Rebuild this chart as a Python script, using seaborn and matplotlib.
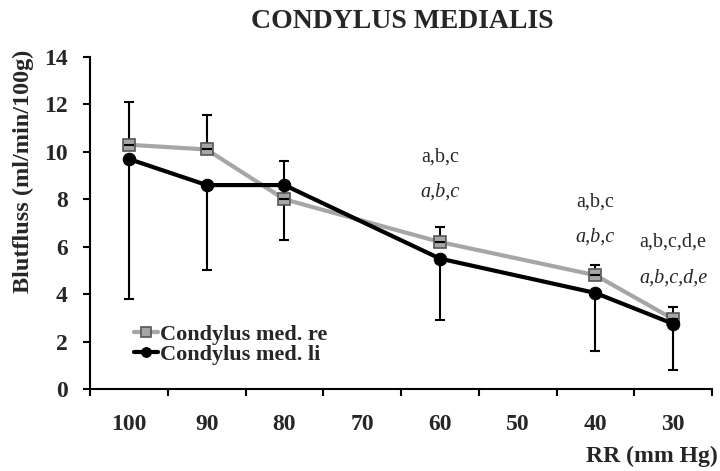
import matplotlib
matplotlib.use("Agg")
import matplotlib.pyplot as plt
import seaborn as sns
import pandas as pd
import numpy as np

categories = ["100", "90", "80", "70", "60", "50", "40", "30"]
measured = ["100", "90", "80", "60", "40", "30"]
re_values = [10.3, 10.1, 8.0, 6.2, 4.8, 2.95]
li_values = [9.7, 8.6, 8.6, 5.5, 4.05, 2.75]
re_err_up = [1.8, 1.45, 1.6, 0.65, 0.45, 0.5]
li_err_down = [5.9, 3.6, 2.3, 2.6, 2.45, 1.95]
annot_upright = {"60": "a,b,c", "40": "a,b,c", "30": "a,b,c,d,e"}
annot_italic = {"60": "a,b,c", "40": "a,b,c", "30": "a,b,c,d,e"}
annot_y_upright = {"60": 9.8, "40": 7.9, "30": 6.2}
annot_y_italic = {"60": 8.3, "40": 6.4, "30": 4.7}

sns.set_theme(style="white")
plt.rcParams["font.family"] = ["Liberation Serif", "DejaVu Serif"]
plt.rcParams["font.weight"] = "bold"

pos = [categories.index(c) for c in measured]
df = pd.DataFrame({
    "pos": pos * 2,
    "value": re_values + li_values,
    "series": ["Condylus med. re"] * len(pos) + ["Condylus med. li"] * len(pos),
})

fig = plt.figure(figsize=(7.2, 4.71), dpi=100)
ax = fig.add_axes([0.125, 0.174, 0.864, 0.705])

sns.lineplot(data=df, x="pos", y="value", hue="series", style="series",
             palette={"Condylus med. re": "#a6a6a6", "Condylus med. li": "#000000"},
             markers={"Condylus med. re": "s", "Condylus med. li": "o"},
             dashes=False, linewidth=3, markersize=9, ax=ax, sort=False,
             hue_order=["Condylus med. re", "Condylus med. li"])
for line in ax.lines:
    if line.get_color() in ("#a6a6a6",):
        line.set_markeredgecolor("#555555")
        line.set_markerfacecolor("#a6a6a6")
        line.set_markeredgewidth(1.2)
    else:
        line.set_markeredgecolor("#000000")

ax.errorbar(pos, re_values, yerr=[np.zeros(len(pos)), re_err_up], fmt="none",
            ecolor="black", elinewidth=1.5, capsize=3.5, capthick=1.5, zorder=1)
ax.errorbar(pos, li_values, yerr=[li_err_down, np.zeros(len(pos))], fmt="none",
            ecolor="black", elinewidth=1.5, capsize=3.5, capthick=1.5, zorder=1)

for line in ax.lines:
    line.set_zorder(3)

for k in annot_upright:
    x = categories.index(k)
    ax.text(x, annot_y_upright[k], annot_upright[k], ha="center", va="center",
            fontsize=14.5, fontweight="normal")
    ax.text(x, annot_y_italic[k], annot_italic[k], ha="center", va="center",
            fontsize=14.5, fontweight="normal", fontstyle="italic")

ax.set_xlim(-0.5, len(categories) - 0.5)
ax.set_ylim(0, 14)
ax.set_yticks(range(0, 15, 2))
ax.set_xticks(range(len(categories)))
ax.set_xticklabels(categories)
ax.set_xticks(np.arange(-0.5, len(categories), 1.0), minor=True)
ax.tick_params(axis="x", which="major", length=0, pad=18, labelsize=17)
ax.tick_params(axis="x", which="minor", direction="out", length=5, width=1.5, color="black", bottom=True)
ax.tick_params(axis="y", which="major", direction="out", length=5, width=1.5, color="black", left=True, labelsize=17, pad=11)
for lab in ax.get_xticklabels() + ax.get_yticklabels():
    lab.set_fontweight("bold")

sns.despine(ax=ax)
ax.spines["left"].set_color("black")
ax.spines["bottom"].set_color("black")
ax.spines["left"].set_linewidth(1.5)
ax.spines["bottom"].set_linewidth(1.5)

ax.set_xlabel("")
ax.set_ylabel("")
fig.text(23 / 720, 1 - 171 / 471, "Blutfluss (ml/min/100g)", rotation=90, ha="center", va="center",
         fontsize=17.5, fontweight="bold")
fig.text(0.997, 1 - 456 / 471, "RR (mm Hg)", ha="right", va="center", fontsize=17, fontweight="bold")
fig.text(402 / 720, 1 - 21 / 471, "CONDYLUS MEDIALIS", ha="center", va="center", fontsize=20, fontweight="bold")

leg = ax.legend(loc="lower left", bbox_to_anchor=(0.045, 0.025), frameon=False,
                handlelength=1.1, handletextpad=0.1, labelspacing=0.0,
                prop={"size": 16, "weight": "bold"}, borderaxespad=0.3)
for h in leg.legend_handles:
    h.set_linewidth(3)
    h.set_markersize(7)

fig.savefig("out.png", dpi=100)
